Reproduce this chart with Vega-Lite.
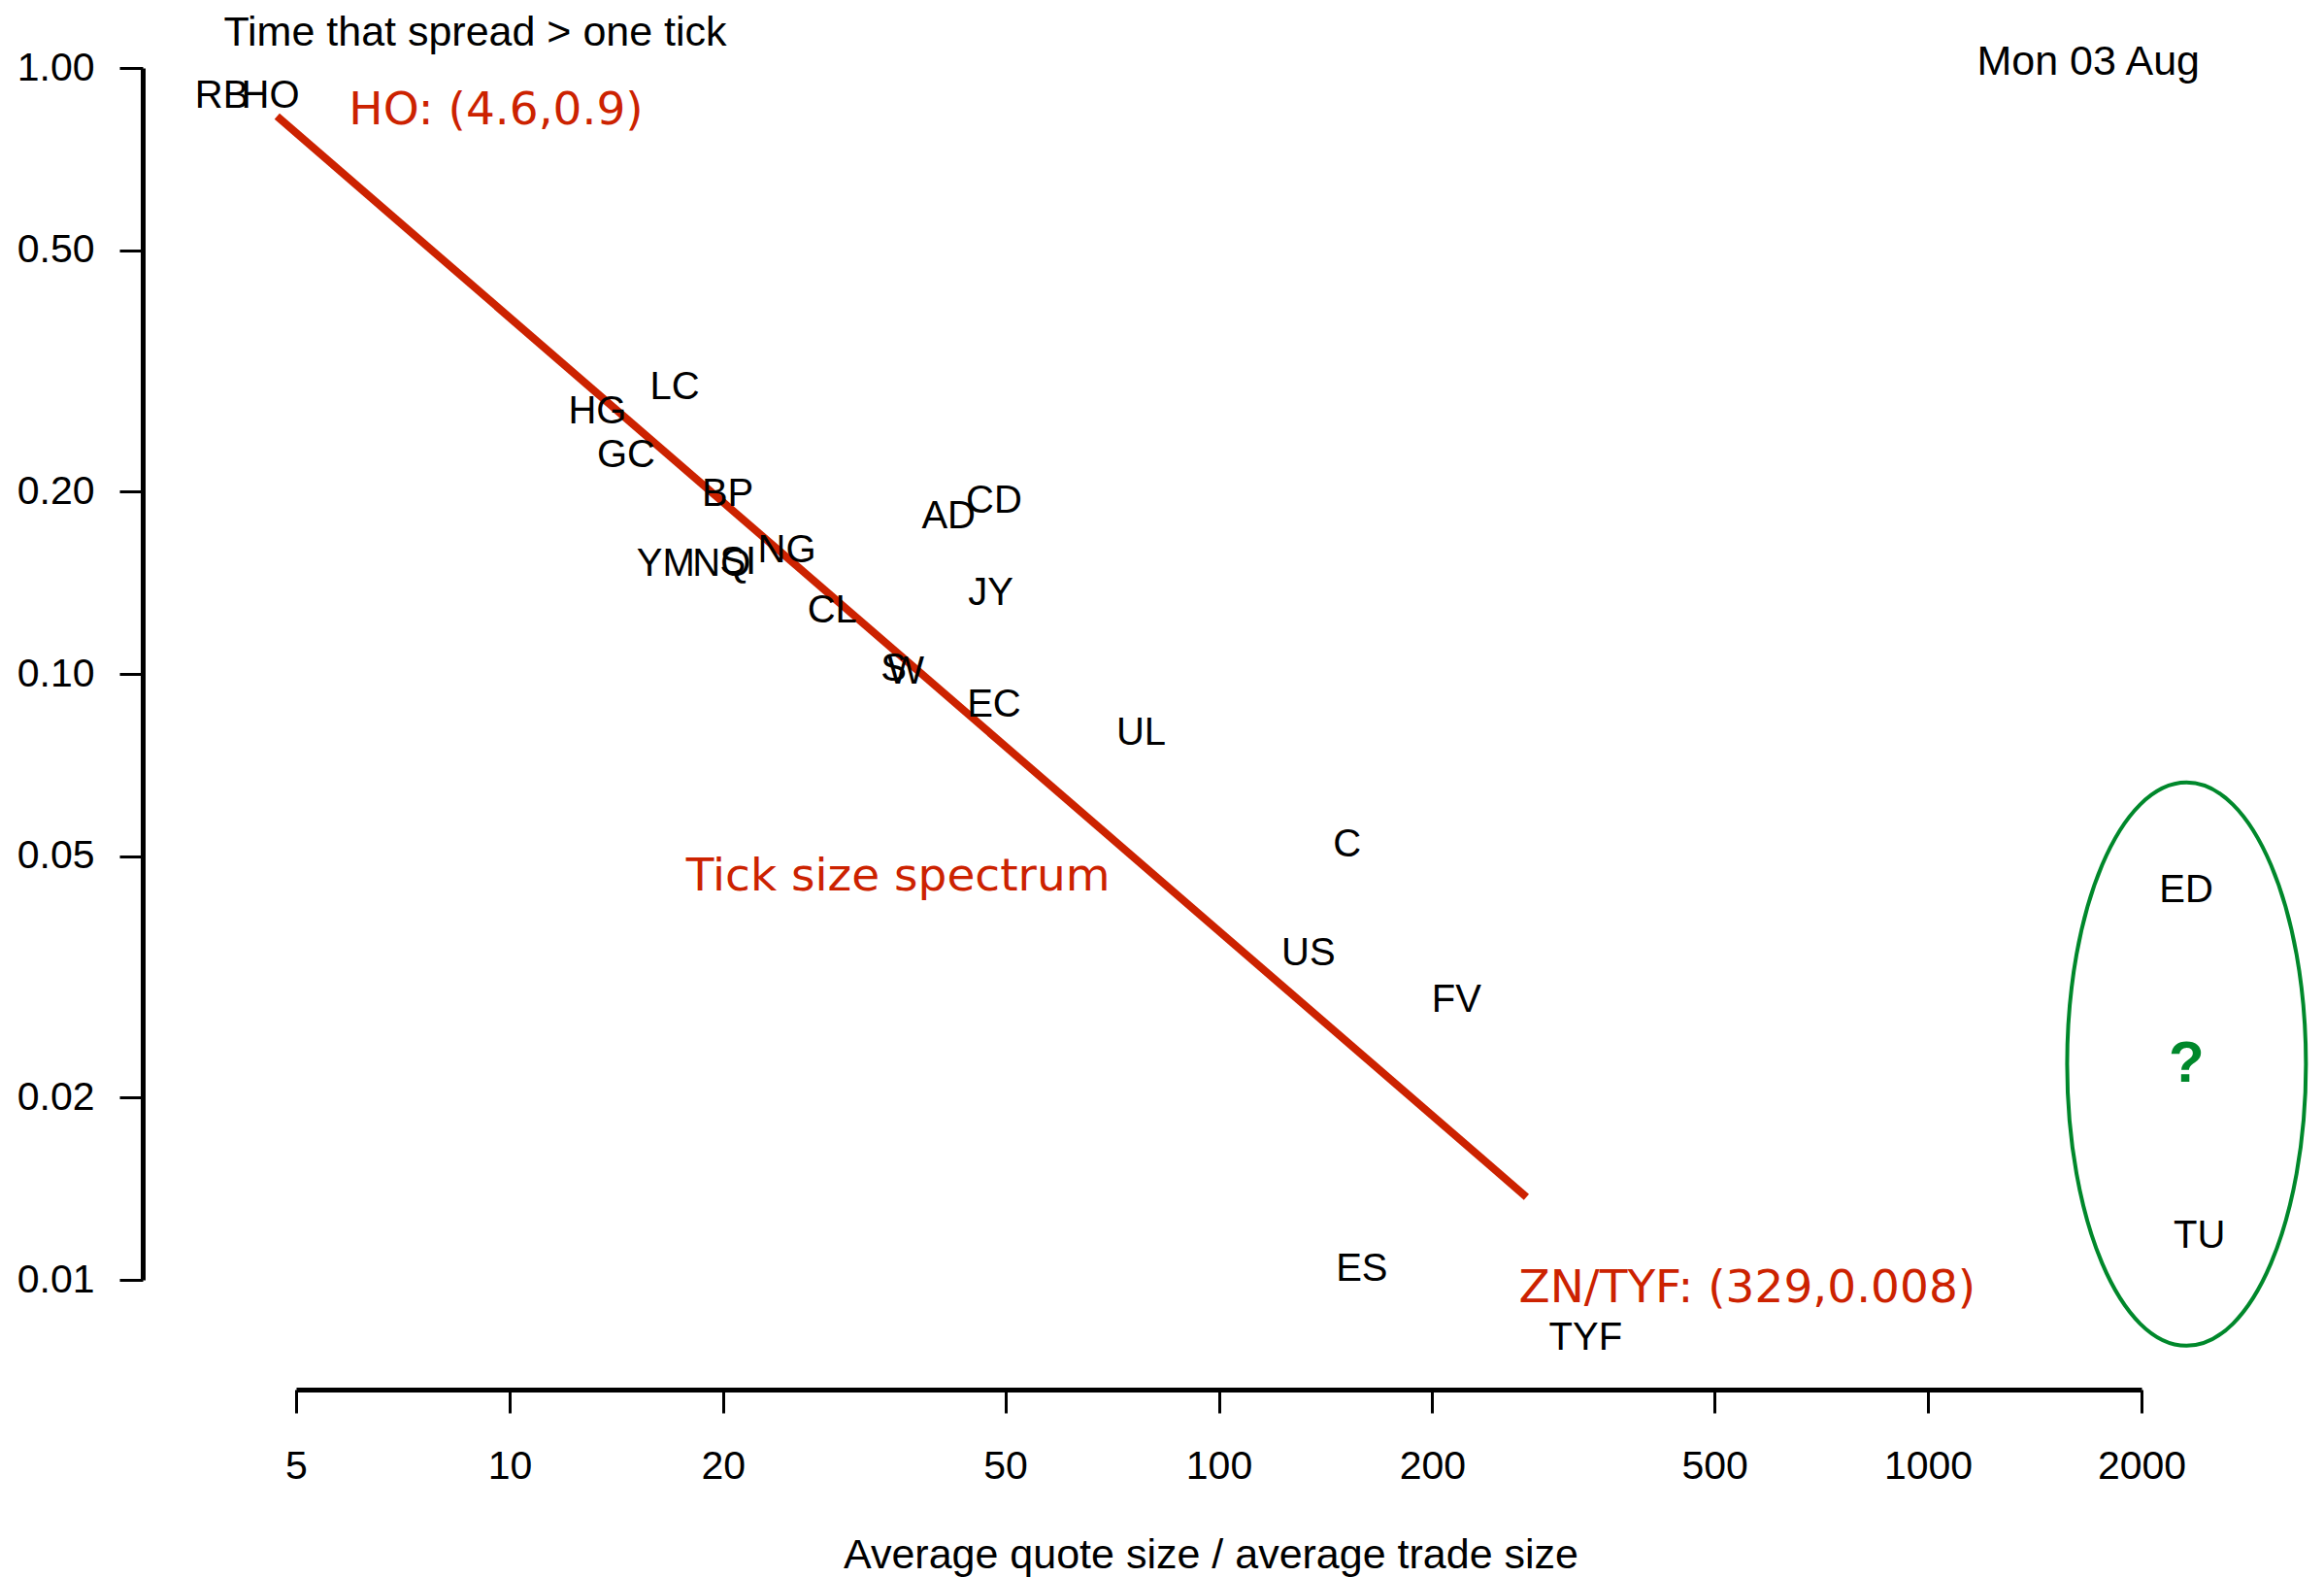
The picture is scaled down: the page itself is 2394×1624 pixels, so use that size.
{
  "$schema": "https://vega.github.io/schema/vega-lite/v6.json",
  "width": 1901,
  "height": 1248,
  "autosize": {"type": "none"},
  "padding": {"left": 305, "top": 70, "right": 188, "bottom": 306},
  "background": "white",
  "config": {"view": {"stroke": null}, "font": "Liberation Sans"},
  "title": {
    "text": "Mon 03 Aug",
    "anchor": "end",
    "frame": "group",
    "orient": "top",
    "offset": 0,
    "dx": 60,
    "dy": 108,
    "baseline": "alphabetic",
    "font": "Liberation Sans",
    "fontSize": 43,
    "fontWeight": "normal",
    "color": "black"
  },
  "datasets": {
    "tickers": [
      {"ticker": "RB", "ratio": 3.93, "frac": 0.9},
      {"ticker": "HO", "ratio": 4.6, "frac": 0.9},
      {"ticker": "LC", "ratio": 17.1, "frac": 0.297},
      {"ticker": "HG", "ratio": 13.3, "frac": 0.271},
      {"ticker": "GC", "ratio": 14.6, "frac": 0.229},
      {"ticker": "BP", "ratio": 20.3, "frac": 0.198},
      {"ticker": "AD", "ratio": 41.6, "frac": 0.182},
      {"ticker": "CD", "ratio": 48.2, "frac": 0.193},
      {"ticker": "YM", "ratio": 16.6, "frac": 0.152},
      {"ticker": "NQ", "ratio": 19.9, "frac": 0.152},
      {"ticker": "SI", "ratio": 21.0, "frac": 0.153},
      {"ticker": "NG", "ratio": 24.6, "frac": 0.16},
      {"ticker": "CL", "ratio": 28.5, "frac": 0.127},
      {"ticker": "S", "ratio": 34.8, "frac": 0.102},
      {"ticker": "W", "ratio": 36.2, "frac": 0.1006},
      {"ticker": "JY", "ratio": 47.7, "frac": 0.136},
      {"ticker": "EC", "ratio": 48.2, "frac": 0.0888},
      {"ticker": "UL", "ratio": 77.7, "frac": 0.0797},
      {"ticker": "C", "ratio": 151.7, "frac": 0.0523},
      {"ticker": "US", "ratio": 133.8, "frac": 0.0346},
      {"ticker": "FV", "ratio": 216.4, "frac": 0.0289},
      {"ticker": "ES", "ratio": 159.1, "frac": 0.0104},
      {"ticker": "TYF", "ratio": 329, "frac": 0.008},
      {"ticker": "ED", "ratio": 2312, "frac": 0.0439},
      {"ticker": "TU", "ratio": 2414, "frac": 0.0118}
    ],
    "fit": [
      {"ratio": 4.7, "frac": 0.832},
      {"ratio": 271.5, "frac": 0.0137}
    ],
    "notes": [
      {"note": "HO: (4.6,0.9)", "ratio": 9.57, "frac": 0.849},
      {"note": "Tick size spectrum", "ratio": 35.3, "frac": 0.0463},
      {"note": "ZN/TYF: (329,0.008)", "ratio": 556, "frac": 0.00967}
    ],
    "cluster": [
      {"label": "?", "ratio": 2315, "frac": 0.0227}
    ]
  },
  "layer": [
    {
      "data": {"name": "fit"},
      "mark": {"type": "line", "color": "#CC2200", "strokeWidth": 8, "strokeCap": "butt"},
      "encoding": {
        "x": {
          "field": "ratio",
          "type": "quantitative",
          "scale": {"type": "log", "domain": [5, 2000], "nice": false, "zero": false},
          "axis": {
            "values": [5, 10, 20, 50, 100, 200, 500, 1000, 2000],
            "format": "d",
            "title": "Average quote size / average trade size",
            "offset": 113,
            "grid": false,
            "domainColor": "black",
            "domainWidth": 5,
            "tickColor": "black",
            "tickWidth": 3,
            "tickSize": 24,
            "labelFont": "Liberation Sans",
            "labelFontSize": 41,
            "labelColor": "black",
            "labelPadding": 35,
            "labelFlush": false,
            "labelOverlap": false,
            "labelBound": false,
            "titleFont": "Liberation Sans",
            "titleFontSize": 43,
            "titleFontWeight": "normal",
            "titleColor": "black",
            "titleX": 942,
            "titleY": 183,
            "titleAlign": "center",
            "titleBaseline": "alphabetic"
          }
        },
        "y": {
          "field": "frac",
          "type": "quantitative",
          "scale": {"type": "log", "domain": [0.01, 1], "nice": false, "zero": false},
          "axis": {
            "values": [0.01, 0.02, 0.05, 0.1, 0.2, 0.5, 1],
            "format": ".2f",
            "title": "Time that spread > one tick",
            "offset": 158,
            "grid": false,
            "domainColor": "black",
            "domainWidth": 5,
            "tickColor": "black",
            "tickWidth": 3,
            "tickSize": 24,
            "labelFont": "Liberation Sans",
            "labelFontSize": 41,
            "labelColor": "black",
            "labelPadding": 26,
            "labelFlush": false,
            "labelOverlap": false,
            "labelBound": false,
            "titleFont": "Liberation Sans",
            "titleFontSize": 43,
            "titleFontWeight": "normal",
            "titleColor": "black",
            "titleAngle": 0,
            "titleX": 342,
            "titleY": -24,
            "titleAlign": "center",
            "titleBaseline": "alphabetic"
          }
        }
      }
    },
    {
      "data": {"name": "tickers"},
      "mark": {"type": "text", "font": "Liberation Sans", "fontSize": 40, "color": "black", "align": "center", "baseline": "middle"},
      "encoding": {
        "x": {"field": "ratio", "type": "quantitative"},
        "y": {"field": "frac", "type": "quantitative"},
        "text": {"field": "ticker"}
      }
    },
    {
      "data": {"name": "notes"},
      "mark": {"type": "text", "font": "DejaVu Sans", "fontSize": 47, "color": "#CC2200", "align": "center", "baseline": "middle"},
      "encoding": {
        "x": {"field": "ratio", "type": "quantitative"},
        "y": {"field": "frac", "type": "quantitative"},
        "text": {"field": "note"}
      }
    },
    {
      "data": {"name": "cluster"},
      "mark": {"type": "point", "shape": "M 0 -1 A 0.4241 1 0 1 1 0 1 A 0.4241 1 0 1 1 0 -1 Z", "size": 336400, "filled": false, "color": "#00882B", "strokeWidth": 4, "opacity": 1},
      "encoding": {
        "x": {"field": "ratio", "type": "quantitative"},
        "y": {"field": "frac", "type": "quantitative"}
      }
    },
    {
      "data": {"name": "cluster"},
      "mark": {"type": "text", "font": "Liberation Sans", "fontSize": 60, "fontWeight": "bold", "color": "#00882B", "align": "center", "baseline": "middle"},
      "encoding": {
        "x": {"field": "ratio", "type": "quantitative"},
        "y": {"field": "frac", "type": "quantitative"},
        "text": {"field": "label"}
      }
    }
  ]
}
